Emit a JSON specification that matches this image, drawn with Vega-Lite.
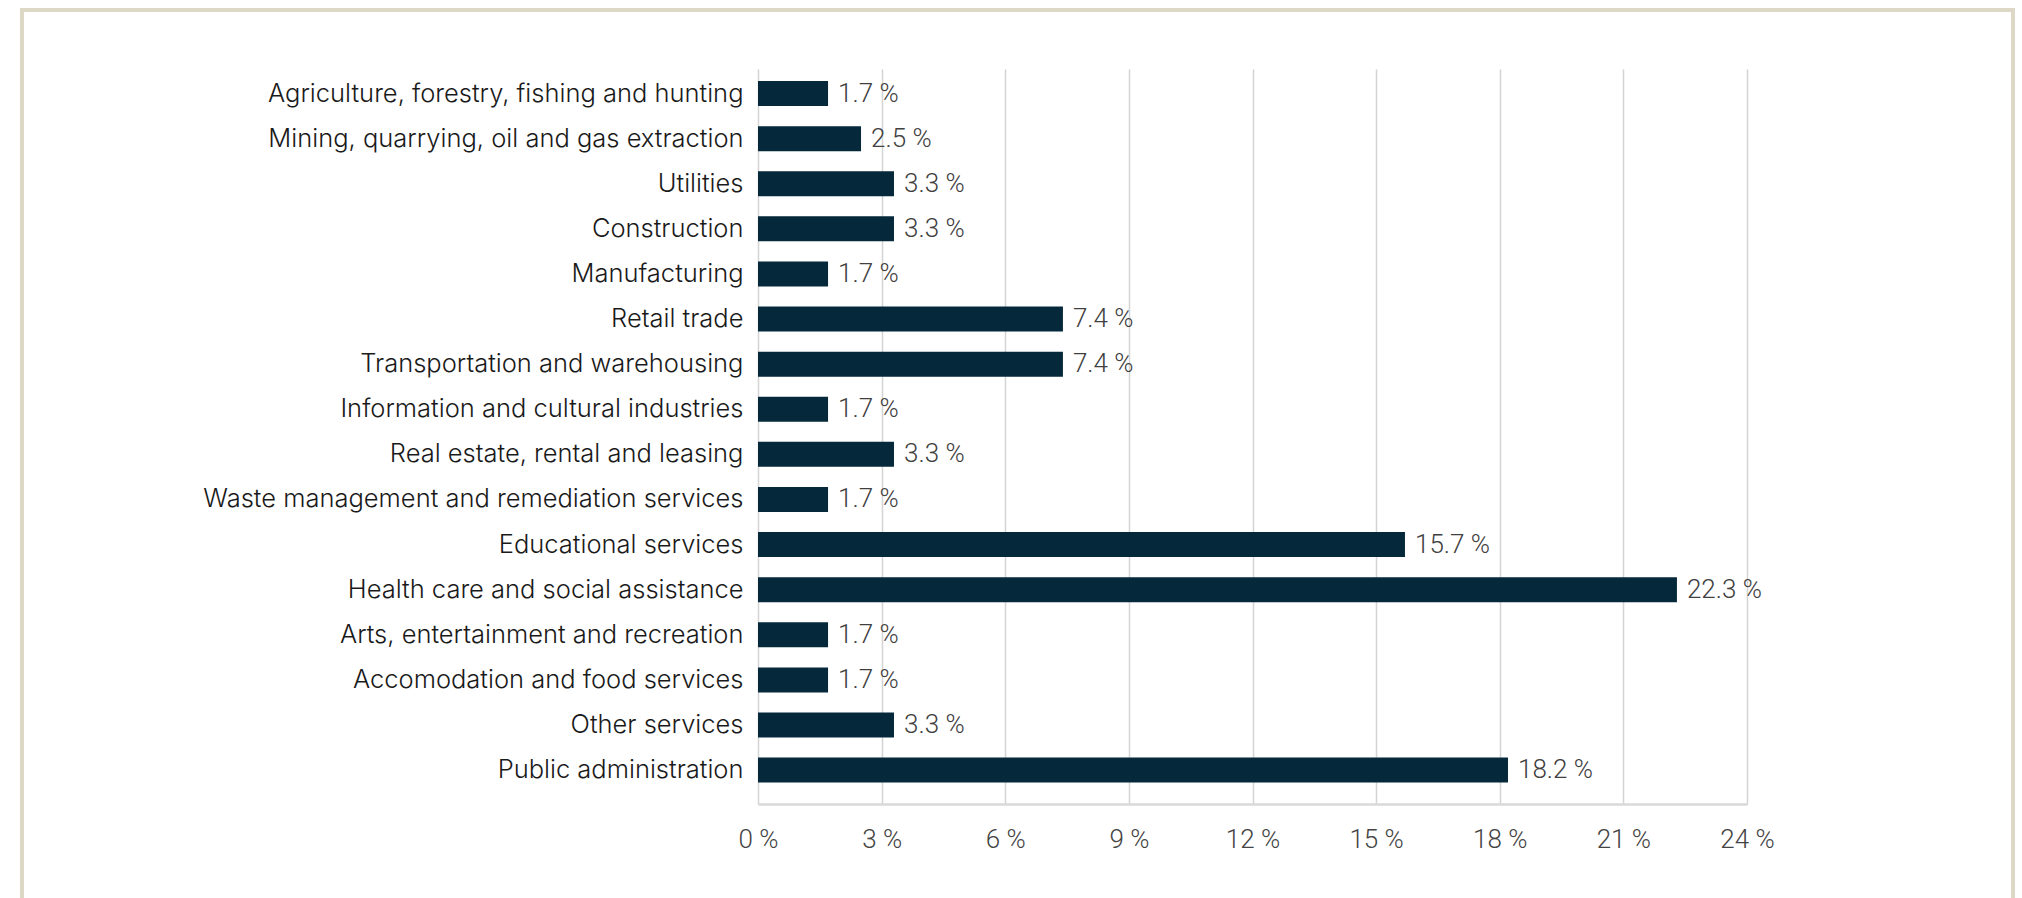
{
  "$schema": "https://vega.github.io/schema/vega-lite/v6.json",
  "width": 989,
  "height": 735,
  "autosize": {"type": "none"},
  "padding": {"left": 758, "top": 69, "right": 275, "bottom": 94},
  "background": "#ffffff",
  "config": {"view": {"stroke": null}},
  "data": {
    "values": [
      {"industry": "Agriculture, forestry, fishing and hunting", "value": 1.7, "label": "1.7 %"},
      {"industry": "Mining, quarrying, oil and gas extraction", "value": 2.5, "label": "2.5 %"},
      {"industry": "Utilities", "value": 3.3, "label": "3.3 %"},
      {"industry": "Construction", "value": 3.3, "label": "3.3 %"},
      {"industry": "Manufacturing", "value": 1.7, "label": "1.7 %"},
      {"industry": "Retail trade", "value": 7.4, "label": "7.4 %"},
      {"industry": "Transportation and warehousing", "value": 7.4, "label": "7.4 %"},
      {"industry": "Information and cultural industries", "value": 1.7, "label": "1.7 %"},
      {"industry": "Real estate, rental and leasing", "value": 3.3, "label": "3.3 %"},
      {"industry": "Waste management and remediation services", "value": 1.7, "label": "1.7 %"},
      {"industry": "Educational services", "value": 15.7, "label": "15.7 %"},
      {"industry": "Health care and social assistance", "value": 22.3, "label": "22.3 %"},
      {"industry": "Arts, entertainment and recreation", "value": 1.7, "label": "1.7 %"},
      {"industry": "Accomodation and food services", "value": 1.7, "label": "1.7 %"},
      {"industry": "Other services", "value": 3.3, "label": "3.3 %"},
      {"industry": "Public administration", "value": 18.2, "label": "18.2 %"}
    ]
  },
  "layer": [
    {
      "data": {"values": [{}]},
      "mark": {"type": "rect", "fill": null, "stroke": "#ddd7c5", "strokeWidth": 4, "clip": false},
      "encoding": {
        "x": {"datum": 0, "type": "quantitative", "scale": {"domain": [0, 1], "range": [-736, 1255]}, "axis": null},
        "x2": {"datum": 1},
        "y": {"datum": 0, "type": "quantitative", "scale": {"domain": [0, 1], "range": [-59, 880]}, "axis": null},
        "y2": {"datum": 1}
      }
    },
    {
      "layer": [
        {
          "mark": {"type": "bar", "color": "#05293a"},
          "encoding": {
            "y": {
              "field": "industry",
              "type": "nominal",
              "sort": null,
              "scale": {"paddingInner": 0.4457, "paddingOuter": 0.371, "align": 0.36},
              "axis": {
                "title": null,
                "domain": false,
                "ticks": false,
                "labelPadding": 15,
                "labelLimit": 900,
                "labelFont": "Inter",
                "labelFontWeight": 300,
                "labelFontSize": 25.5,
                "labelColor": "#1a1a1a"
              }
            },
            "x": {
              "field": "value",
              "type": "quantitative",
              "scale": {"domain": [0, 24], "nice": false},
              "axis": {
                "title": null,
                "values": [0, 3, 6, 9, 12, 15, 18, 21, 24],
                "labelExpr": "datum.value + ' %'",
                "grid": true,
                "gridColor": "#d4d4d4",
                "gridWidth": 1.5,
                "domain": true,
                "domainColor": "#d9d9d9",
                "domainWidth": 2.5,
                "ticks": false,
                "labelPadding": 22,
                "labelFont": "Roboto",
                "labelFontWeight": 300,
                "labelFontSize": 26,
                "labelColor": "#444444",
                "labelFlush": false
              }
            }
          }
        },
        {
          "mark": {"type": "text", "align": "left", "baseline": "middle", "dx": 10, "font": "Roboto", "fontWeight": 300, "fontSize": 26, "color": "#404040"},
          "encoding": {
            "y": {"field": "industry", "type": "nominal", "sort": null},
            "x": {"field": "value", "type": "quantitative"},
            "text": {"field": "label"}
          }
        }
      ]
    }
  ],
  "resolve": {"scale": {"x": "independent", "y": "independent"}}
}
